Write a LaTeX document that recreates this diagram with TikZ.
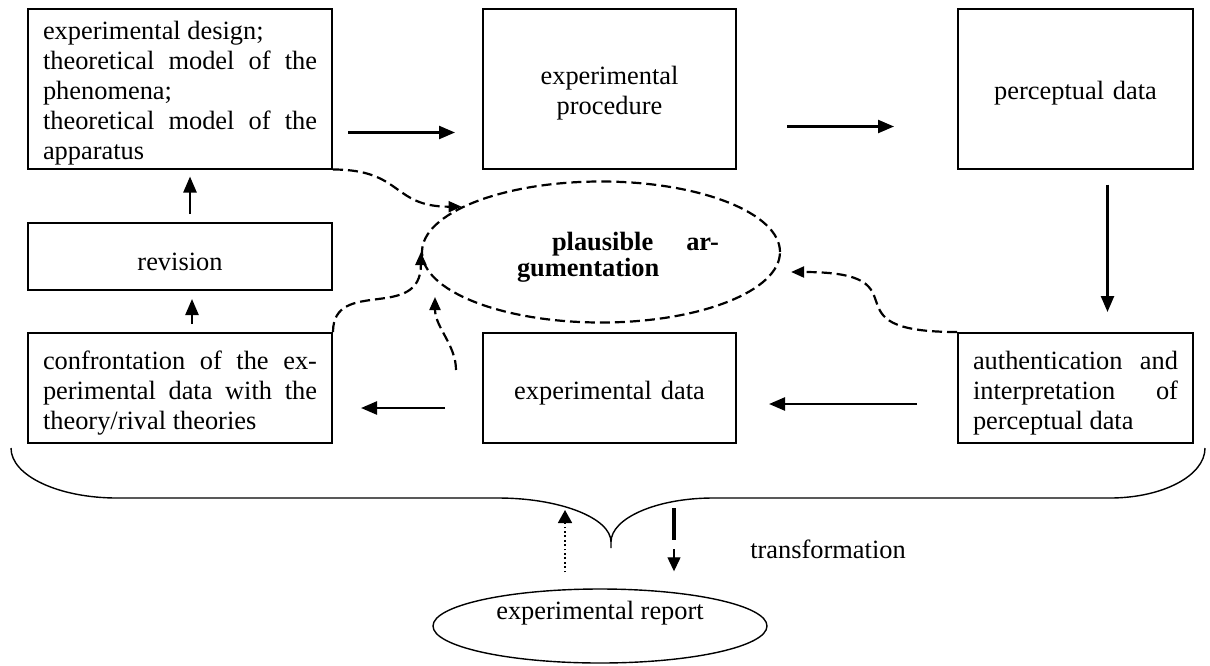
\documentclass[tikz,border=0pt]{standalone}
\usepackage{fontspec}
\setmainfont{Liberation Serif}
\usetikzlibrary{arrows.meta, shapes.geometric}
\setlength{\parindent}{0pt}

\tikzset{
  box/.style={draw, rectangle, line width=1pt, inner xsep=7.5pt, inner ysep=0pt, execute at begin node={\rule{0pt}{14pt}}},
  arr/.style={-{Triangle[length=8pt,width=6.5pt]}, line width=1.2pt},
  dasharr/.style={-{Triangle[length=6.5pt,width=5.5pt]}, line width=1.1pt, dash pattern=on 5pt off 2.5pt},
}

\begin{document}
\begin{tikzpicture}[x=0.5pt, y=-0.5pt, font=\fontsize{13.2}{15}\selectfont]
  \useasboundingbox (0,0) rectangle (1210,665);

  % Upper row of boxes
  \node[box, text width=137pt, minimum height=80pt, align=justify] (design) at (180,88.5)
    {experimental design;\\ theoretical model of the\linebreak phenomena;\\ theoretical model of the\linebreak apparatus};
  \node[box, text width=111.5pt, minimum height=80pt, align=center] (proc) at (609.5,88.5) {experimental\\procedure};
  \node[box, text width=102.5pt, minimum height=80pt, align=center] (perc) at (1075.5,88.5) {perceptual data};

  % Revision box
  \node[box, text width=137pt, minimum height=33.5pt, align=center] (rev) at (180,256.5) {revision};

  % Lower row of boxes
  \node[box, text width=137pt, minimum height=55pt, align=justify] (confr) at (180,388)
    {confrontation of the ex-\linebreak perimental data with the\linebreak theory/rival theories};
  \node[box, text width=111.5pt, minimum height=55pt, align=center] (expdata) at (609.5,388) {experimental data};
  \node[box, text width=102.5pt, minimum height=55pt, align=justify] (auth) at (1075.5,388)
    {authentication and\linebreak interpretation of\linebreak perceptual data};

  % Dashed ellipse in the middle
  \node[ellipse, draw, line width=1.1pt, dash pattern=on 5pt off 2.5pt, minimum width=179pt, minimum height=70.5pt,
        inner sep=0pt, text width=120pt, align=left, execute at begin node={\rule{0pt}{14pt}},
        font=\bfseries\fontsize{13.2}{13}\selectfont] (plaus) at (601,252)
    {\hspace*{35.5pt}plausible\hspace{16.5pt}ar-\\\hspace*{18pt}gumentation};

  % Report ellipse at the bottom
  \node[ellipse, draw, line width=0.7pt, minimum width=167pt, minimum height=37pt, inner sep=0pt, text depth=16pt]
    (report) at (600,626) {experimental report};
  \node[inner sep=0pt] (transf) at (828,549) {transformation};

  % Solid arrows of the cycle
  \draw[arr, shorten <=7.5pt, shorten >=13.5pt] ([yshift=-22pt]design.east) -- ([yshift=-22pt]proc.west);
  \draw[arr, shorten <=25pt, shorten >=31.5pt] ([yshift=-19pt]proc.east) -- ([yshift=-19pt]perc.west);
  \draw[arr, shorten <=7.5pt, shorten >=10pt] ([xshift=16pt]perc.south) -- ([xshift=16pt]auth.north);
  \draw[arr, shorten <=20pt, shorten >=16pt] ([yshift=-8pt]auth.west) -- ([yshift=-8pt]expdata.east);
  \draw[arr, shorten <=18.5pt, shorten >=14pt] ([yshift=-10pt]expdata.west) -- ([yshift=-10pt]confr.east);
  \draw[arr, shorten <=4pt, shorten >=4pt] ([xshift=6pt]confr.north) -- ([xshift=6pt]rev.south);
  \draw[arr, shorten <=4pt, shorten >=3.5pt] ([xshift=5pt]rev.north) -- ([xshift=5pt]design.south);

  % Dashed arrows into the ellipse
  \draw[dasharr] (design.south east) .. controls +(70,0) and +(-70,0) .. (plaus.162);
  \draw[dasharr] (confr.north east) .. controls +(0,-55) and +(0,70) .. (plaus.west);
  \draw[dasharr] ([xshift=-13pt,yshift=9pt]expdata.west) .. controls +(0,-25) and +(0,30) .. ([xshift=-83pt,yshift=-22.5pt]plaus.center);
  \draw[dasharr] (auth.north west) .. controls +(-138,0) and +(140,0) .. ([xshift=5pt,yshift=-10pt]plaus.east);

  % Big brace under the boxes
  \coordinate (tip) at (611,548);
  \draw[line width=0.7pt] (11,448) .. controls (11,476) and (59,498) .. (117,498) -- (498,498)
    .. controls (560,498) and (611,518) .. (611,542) -- (tip) (611,542) .. controls (611,518) and (657,498) .. (713,498)
    -- (1110,498) .. controls (1162,498) and (1205,476) .. (1205,448);

  % Arrows between brace and report
  \draw[-{Triangle[length=6.5pt,width=7pt]}, line width=0.9pt, dash pattern=on 0.9pt off 1.3pt]
    ([xshift=-17.5pt,yshift=8pt]report.north) -- ([xshift=-23pt,yshift=19pt]tip);
  \draw[line width=1.7pt] ([xshift=31.5pt,yshift=20pt]tip) -- ([xshift=31.5pt,yshift=4pt]tip);
  \draw[-{Triangle[length=7pt,width=6.5pt]}, line width=0.6pt] ([xshift=31.5pt,yshift=-0.5pt]tip) -- ([xshift=37pt,yshift=8.5pt]report.north);
\end{tikzpicture}
\end{document}
